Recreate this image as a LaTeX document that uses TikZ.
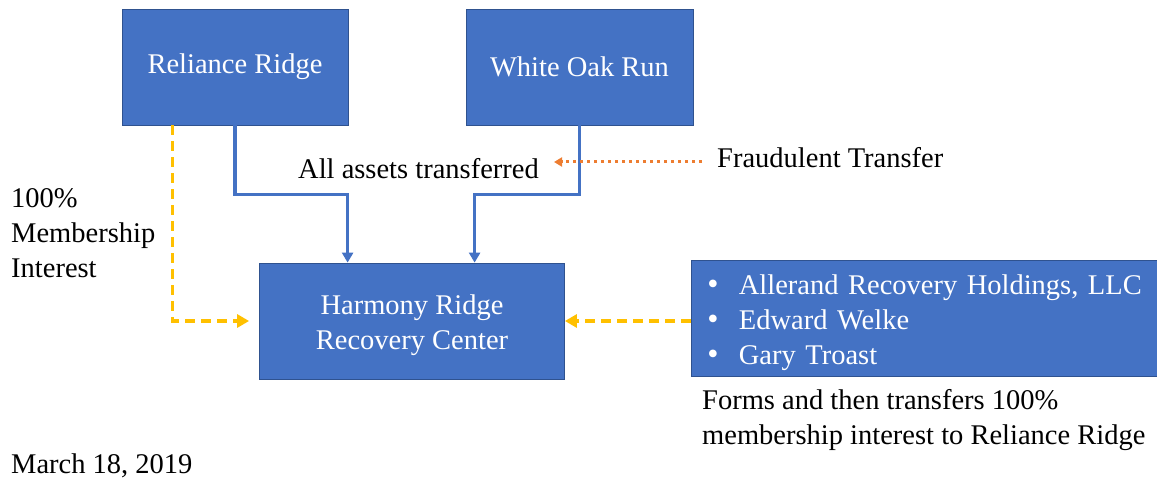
\documentclass[tikz,border=0pt]{standalone}
\usepackage{fontspec}
\setmainfont{Liberation Serif}
\usetikzlibrary{arrows.meta,calc}
\definecolor{boxblue}{HTML}{4472C4}
\definecolor{boxedge}{HTML}{2F528F}
\definecolor{linkyellow}{HTML}{FFC000}
\definecolor{linkorange}{HTML}{ED7D31}
\newcommand{\bulletmark}{\makebox[31.5pt][l]{\raisebox{0.5pt}{\fontsize{32}{32}\selectfont\textbullet}}}
\begin{document}
\begin{tikzpicture}[x=1pt,y=-1pt,
  every node/.style={font=\fontsize{28.5}{35}\selectfont},
  entity/.style={draw=boxedge, line width=0.8pt, fill=boxblue, text=white, align=center, inner sep=0pt},
  plaintext/.style={inner sep=0pt, anchor=base west, align=left},
  flow/.style={draw=boxblue, line width=3.5pt, -{Triangle[length=10pt,width=11pt]}},
  owner/.style={draw=linkyellow, line width=3.5pt, dash pattern=on 10pt off 6pt, -{Triangle[length=12pt,width=13pt]}},
  fraud/.style={draw=linkorange, line width=3pt, dash pattern=on 3pt off 4pt, -{Triangle[length=8pt,width=9pt]}}]
\useasboundingbox (0,0) rectangle (1157,478);

\node[entity, minimum width=226pt, minimum height=116pt] (rr) at (235,67) {Reliance Ridge};
\node[entity, minimum width=227pt, minimum height=116pt] (wo) at (579.5,67) {White Oak Run};
\node[entity, minimum width=305pt, minimum height=116pt] (hr) at (412,321) {\rule{0pt}{27.5pt}Harmony Ridge\\Recovery Center};
\node[entity, anchor=west, text width=440pt, align=left, inner xsep=16pt, minimum height=116pt] (al) at (691,318)
  {\rule{0pt}{29.5pt}\bulletmark Allerand Recovery Holdings, LLC\\
   \bulletmark Edward Welke\\
   \bulletmark Gary Troast};

\node[plaintext] (aat) at (298,179) {All assets transferred};
\node[plaintext] (ft) at (717,168) {Fraudulent Transfer};
\node[plaintext] (mi) at (11,278) {100\%\\Membership\\Interest};
\node[plaintext] (forms) at (702,444) {Forms and then transfers 100\%\\membership interest to Reliance Ridge};
\node[plaintext] (date) at (11,473) {March 18, 2019};

\draw[flow] (rr.south) -- ++(0,69) -| ([xshift=88.5pt]hr.north west);
\draw[flow] (wo.south) -- ++(0,69) -| ([xshift=215.5pt]hr.north west);
\draw[owner] ([xshift=51pt]rr.south west) |- ([xshift=-10pt]hr.west);
\draw[owner] (al.west |- hr.east) -- (hr.east);
\coordinate (fs) at (702,162);
\coordinate (fe) at (554,162);
\draw[fraud] (fs) -- (fe);
\end{tikzpicture}
\end{document}
